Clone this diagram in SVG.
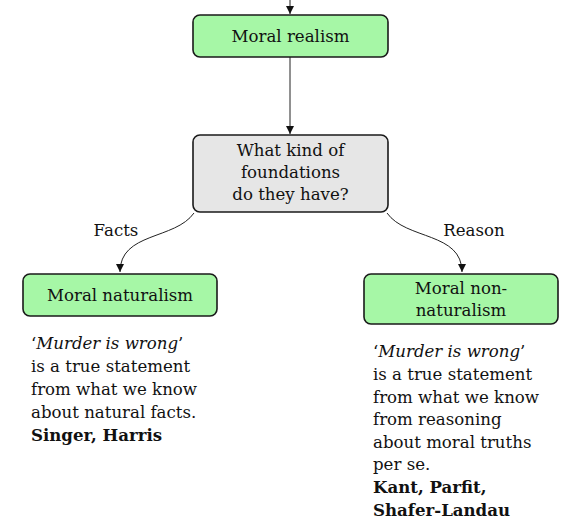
<svg xmlns="http://www.w3.org/2000/svg" width="564" height="522" viewBox="0 0 564 522">
<style>
.box{stroke:#1a1a1a;stroke-width:1.6}
.g{fill:#a6f7a6}
.q{fill:#e6e6e6}
text{fill:#111}
.c{text-anchor:middle}
.b{font-weight:bold}
.edge{fill:none;stroke:#222;stroke-width:1}
</style>
<defs>
<marker id="ah" markerWidth="10" markerHeight="10" refX="8" refY="4" orient="auto" markerUnits="userSpaceOnUse">
<path d="M0,0 L8,4 L0,8 Z" fill="#111"/>
</marker>
</defs>
<g font-family="DejaVu Serif" font-size="16.6">
<g id="connectors">
<path class="edge" d="M290,0 L290,14" marker-end="url(#ah)"/>
<path class="edge" d="M290,57 L290,134" marker-end="url(#ah)"/>
<path class="edge" d="M194,213 C175,240 120,232 120,272" marker-end="url(#ah)"/>
<path class="edge" d="M387,213 C406,240 462,232 462,272" marker-end="url(#ah)"/>
<text class="c" x="116" y="236">Facts</text>
<text class="c" x="474" y="236">Reason</text>
</g>
<g id="realism">
<rect class="box g" x="193" y="15" width="195" height="42" rx="7"/>
<text class="c" x="290.5" y="42">Moral realism</text>
</g>
<g id="question">
<rect class="box q" x="193" y="135" width="195" height="77" rx="7"/>
<text class="c" x="290.5" y="156">What kind of</text>
<text class="c" x="290.5" y="178">foundations</text>
<text class="c" x="290.5" y="200">do they have?</text>
</g>
<g id="naturalism">
<rect class="box g" x="23" y="274" width="194" height="42" rx="7"/>
<text class="c" x="120" y="301">Moral naturalism</text>
</g>
<g id="nonnaturalism">
<rect class="box g" x="364" y="274" width="194" height="50" rx="7"/>
<text class="c" x="461" y="294">Moral non-</text>
<text class="c" x="461" y="316">naturalism</text>
</g>
<g id="naturalism-note">
<text x="31" y="349">‘<tspan font-style="italic">Murder is wrong</tspan>’</text>
<text x="31" y="372">is a true statement</text>
<text x="31" y="395">from what we know</text>
<text x="31" y="418">about natural facts.</text>
<text class="b" x="31" y="441">Singer, Harris</text>
</g>
<g id="nonnaturalism-note">
<text x="373" y="357">‘<tspan font-style="italic">Murder is wrong</tspan>’</text>
<text x="373" y="380">is a true statement</text>
<text x="373" y="403">from what we know</text>
<text x="373" y="425">from reasoning</text>
<text x="373" y="448">about moral truths</text>
<text x="373" y="470">per se.</text>
<text class="b" x="373" y="493">Kant, Parfit,</text>
<text class="b" x="373" y="516">Shafer-Landau</text>
</g>
</g>
</svg>
